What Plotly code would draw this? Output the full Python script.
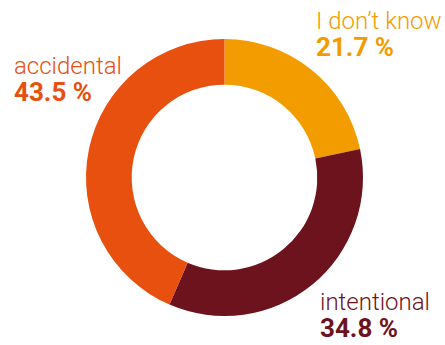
import plotly.graph_objects as go

labels = ["I don’t know", "intentional", "accidental"]
values = [21.7, 34.8, 43.5]
colors = ["#F39C00", "#6D131E", "#E8500F"]

W, H = 445, 345

fig = go.Figure(go.Pie(
    labels=labels, values=values, sort=False, direction="clockwise", rotation=0,
    hole=0.67, textinfo="none", hoverinfo="label+percent",
    marker=dict(colors=colors, line=dict(width=0)),
    domain=dict(x=[86 / W, 363 / W], y=[1 - 317 / H, 1 - 38 / H]),
    showlegend=False,
))

# label block positions in px: (left x, anchor y, vertical anchor)
label_pos = [(314, 5, "top"), (318, 345, "bottom"), (12, 50, "top")]
font = "Roboto, 'DejaVu Sans', sans-serif"
for lab, val, col, (px, py, ya) in zip(labels, values, colors, label_pos):
    txt = (f"<span style='font-size:24px'>{lab}</span><br>"
           f"<span style='font-size:26px'><b>{val:.1f} %</b></span>")
    fig.add_annotation(x=px / W, y=1 - py / H, xref="paper", yref="paper",
                       text=txt, showarrow=False, xanchor="left", yanchor=ya,
                       align="left",
                       font=dict(family=font, size=21, color=col, weight=300))

fig.update_layout(width=W, height=H, margin=dict(l=0, r=0, t=0, b=0),
                  paper_bgcolor="white", plot_bgcolor="white")
fig.write_html("out.html")
